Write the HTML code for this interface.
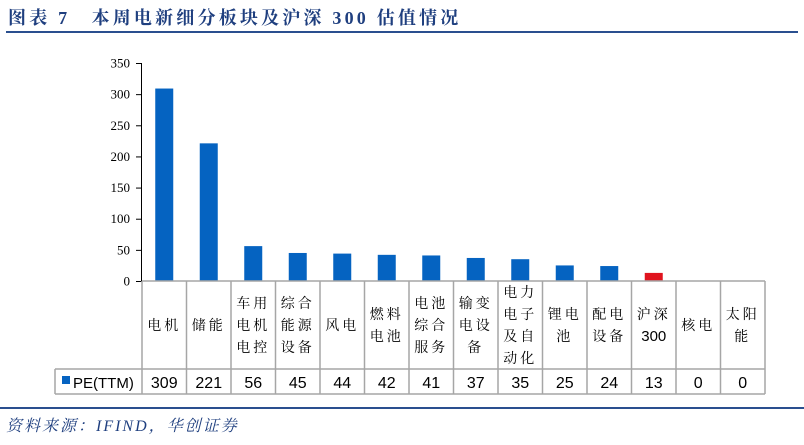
<!DOCTYPE html>
<html><head><meta charset="utf-8">
<style>
body{margin:0;background:#fff;width:804px;height:440px;overflow:hidden;}
svg text{font-family:"Liberation Serif","Noto Serif CJK SC",serif;}
</style></head>
<body>
<svg id="c" width="804" height="440" xmlns="http://www.w3.org/2000/svg">
<text x="8" y="24" font-size="18" font-weight="bold" letter-spacing="3.2" fill="#1F3F7F" style="font-family:'Liberation Serif','Noto Serif CJK SC',serif">图表 7　本周电新细分板块及沪深 300 估值情况</text>
<rect x="6" y="31" width="792" height="2" fill="#2A4F8F"/>
<g id="plot"></g>
<rect x="0" y="407" width="804" height="2" fill="#2A4F8F"/>
<text x="6" y="431" font-size="16" letter-spacing="2" font-style="italic" fill="#1F3F7F" style="font-family:'Liberation Serif','Noto Serif CJK SC',serif">资料来源：IFIND，华创证券</text>
</svg>
<script>
const categories=[["电机"],["储能"],["车用","电机","电控"],["综合","能源","设备"],["风电"],["燃料","电池"],["电池","综合","服务"],["输变","电设","备"],["电力","电子","及自","动化"],["锂电","池"],["配电","设备"],["沪深","300"],["核电"],["太阳","能"]];
const peValues=[309,221,56,45,44,42,41,37,35,25,24,13,0,0];
const highlight=[false,false,false,false,false,false,false,false,false,false,false,true,false,false];
const yTicks=[0,50,100,150,200,250,300,350];
const seriesName="PE(TTM)";

const NS="http://www.w3.org/2000/svg";
const g=document.getElementById('plot');
const x0=142,colW=44.5,y0=281,yTop=63,yMax=350;
function ys(v){return y0-(v/yMax)*(y0-yTop);}
function xs(i){return x0+i*colW;}
function mk(t,a,txt){const e=document.createElementNS(NS,t);for(const k in a)e.setAttribute(k,a[k]);if(txt!==undefined)e.textContent=txt;g.appendChild(e);return e;}

let e=mk('line',{x1:141.5,y1:yTop,x2:141.5,y2:y0,stroke:'#000','stroke-width':1});


yTicks.forEach(t=>{
  const y=ys(t);
  let l=mk('line',{x1:136,y1:y+0.5,x2:142,y2:y+0.5,stroke:'#000'});
  
  
  let tx=mk('text',{x:130,y:y+4.5,'font-size':13,'text-anchor':'end',fill:'#000'},String(t));
  
  
});
peValues.forEach((v,i)=>{
  const cx=xs(i)+colW/2;
  let r=mk('rect',{x:cx-9,y:ys(v),width:18,height:y0-ys(v),fill:highlight[i]?'#E0141E':'#0563C1'});
  
  
});
const tb=369,tbot=394,lx=55,rx=xs(categories.length);
const gs={stroke:'#A6A6A6','stroke-width':1.5,fill:'none'};
mk('line',Object.assign({x1:x0,y1:y0,x2:rx,y2:y0},gs));
mk('line',Object.assign({x1:lx,y1:tb,x2:rx,y2:tb},gs));
mk('line',Object.assign({x1:lx,y1:tbot,x2:rx,y2:tbot},gs));
mk('line',Object.assign({x1:lx,y1:tb,x2:lx,y2:tbot},gs));
for(let i=0;i<=categories.length;i++){mk('line',Object.assign({x1:xs(i),y1:y0,x2:xs(i),y2:tbot},gs));}
let lg=mk('rect',{x:62,y:376,width:8,height:8,fill:'#0563C1'});


let lt=mk('text',{x:73,y:388,'font-size':15,fill:'#000',style:'font-family:"Liberation Sans",sans-serif'},seriesName);


categories.forEach((lines,i)=>{
  const cx=xs(i)+colW/2,mid=(y0+tb)/2,lh=22;
  const start=mid-(lines.length-1)*lh/2+5;
  lines.forEach((s,k)=>{
    const isNum=/^\d+$/.test(s);
    let t=mk('text',{x:cx,y:start+k*lh,'font-size':isNum?15:14,'text-anchor':'middle',fill:'#000','letter-spacing':isNum?0:3,style:isNum?'font-family:"Liberation Sans",sans-serif':''},s);
    
    
  });
  let vt=mk('text',{x:cx,y:388,'font-size':16,'text-anchor':'middle',fill:'#000',style:'font-family:"Liberation Sans",sans-serif'},String(peValues[i]));
  
  
});
</script>
</body></html>
